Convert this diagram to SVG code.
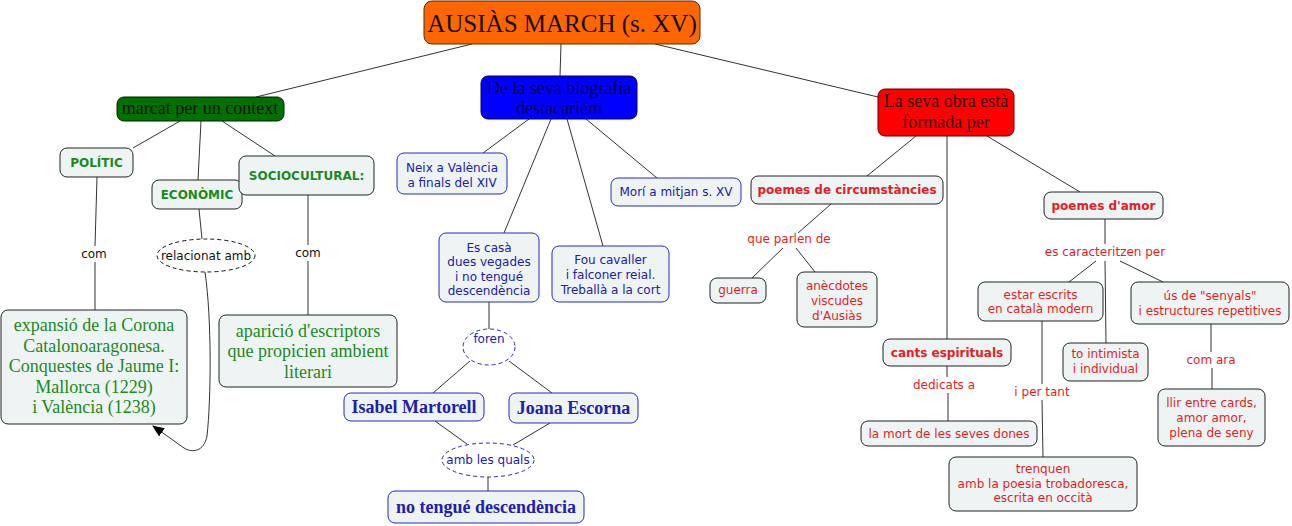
<svg xmlns="http://www.w3.org/2000/svg" width="1292" height="526" viewBox="0 0 1292 526">
<defs>
<marker id="arr" markerWidth="12" markerHeight="10" refX="11" refY="5" orient="auto" markerUnits="userSpaceOnUse">
<path d="M0,0 L12,5 L0,10 Z" fill="#000"/>
</marker>
<style>
.ln{stroke:#333;stroke-width:1;fill:none}
.box{fill:#EEF4F4;stroke:#222;stroke-width:1}
.bbox{fill:#EEF4F4;stroke:#2a2ab8;stroke-width:1}
.serif{font-family:"Liberation Serif","Times New Roman",serif;text-anchor:middle}
.sans{font-family:"DejaVu Sans",Verdana,sans-serif;font-size:12px;text-anchor:middle}
.g{fill:#1B8A1B}
.b{fill:#2020AA}
.r{fill:#E31E24}
.k{fill:#111}
.bold{font-weight:bold}
.lbl{fill:#fff;stroke:none}
</style>
</defs>
<rect width="1292" height="526" fill="#fff"/>
<g id="connectors">
<line class="ln" x1="472" y1="44" x2="256" y2="97"/>
<line class="ln" x1="561" y1="44" x2="560" y2="76"/>
<line class="ln" x1="655" y1="44" x2="878" y2="97"/>
<line class="ln" x1="180" y1="121" x2="133" y2="148"/>
<line class="ln" x1="201" y1="121" x2="198" y2="180"/>
<line class="ln" x1="222" y1="121" x2="275" y2="156"/>
<line class="ln" x1="97" y1="177" x2="95" y2="246"/>
<line class="ln" x1="95" y1="262" x2="95" y2="310"/>
<line class="ln" x1="199" y1="209" x2="202" y2="239"/>
<line class="ln" x1="308" y1="195" x2="308" y2="245"/>
<line class="ln" x1="308" y1="261" x2="308" y2="315"/>
<path class="ln" stroke="#111" d="M205,272 C212,320 211,400 207,436 C204,452 192,453 184,448 L153,426" marker-end="url(#arr)"/>
<line class="ln" x1="529" y1="119" x2="483" y2="153"/>
<line class="ln" x1="551" y1="119" x2="504" y2="233"/>
<line class="ln" x1="567" y1="119" x2="603" y2="246"/>
<line class="ln" x1="586" y1="119" x2="657" y2="178"/>
<line class="ln" x1="489" y1="302" x2="489" y2="329"/>
<line class="ln" x1="470" y1="361" x2="433" y2="393"/>
<line class="ln" x1="509" y1="361" x2="552" y2="393"/>
<line class="ln" x1="435" y1="421" x2="467" y2="444"/>
<line class="ln" x1="550" y1="423" x2="513" y2="445"/>
<line class="ln" x1="488" y1="477" x2="488" y2="491"/>
<line class="ln" x1="916" y1="136" x2="867" y2="176"/>
<line class="ln" x1="831" y1="204" x2="798" y2="233"/>
<line class="ln" x1="783" y1="248" x2="752" y2="278"/>
<line class="ln" x1="796" y1="248" x2="815" y2="272"/>
<line class="ln" x1="947" y1="136" x2="947" y2="339"/>
<line class="ln" x1="947" y1="366" x2="947" y2="377"/>
<line class="ln" x1="948" y1="393" x2="948" y2="421"/>
<line class="ln" x1="987" y1="136" x2="1080" y2="192"/>
<line class="ln" x1="1105" y1="219" x2="1105" y2="244"/>
<line class="ln" x1="1096" y1="261" x2="1069" y2="282"/>
<line class="ln" x1="1105" y1="261" x2="1106" y2="343"/>
<line class="ln" x1="1120" y1="261" x2="1163" y2="282"/>
<line class="ln" x1="1211" y1="324" x2="1211" y2="352"/>
<line class="ln" x1="1212" y1="368" x2="1212" y2="389"/>
<line class="ln" x1="1042" y1="321" x2="1042" y2="384"/>
<line class="ln" x1="1042" y1="400" x2="1043" y2="457"/>
</g>
<g id="link-labels">
<text class="sans k" x="94" y="258">com</text>
<text class="sans k" x="308" y="257">com</text>
<text class="sans r" x="789" y="243">que parlen de</text>
<text class="sans r" x="944" y="389">dedicats a</text>
<text class="sans r" x="1105" y="256">es caracteritzen per</text>
<text class="sans r" x="1211" y="364">com ara</text>
<text class="sans r" x="1042" y="396">i per tant</text>
</g>
<g id="root">
<rect x="424" y="1" width="276" height="43" rx="8" fill="#FF6600" stroke="#5a2a00"/>
<text class="serif k" x="562" y="32" font-size="25">AUSIÀS MARCH (s. XV)</text>
</g>
<g id="context">
<rect x="117" y="97" width="167" height="24" rx="7" fill="#007000" stroke="#002200"/>
<text class="serif k" x="200" y="114" font-size="18">marcat per un context</text>
</g>
<g id="biografia">
<rect x="481" y="76" width="156" height="43" rx="7" fill="#0000FF" stroke="#000060"/>
<text class="serif" fill="#000050" x="559" y="94" font-size="18">De la seva biografia</text>
<text class="serif" fill="#000050" x="559" y="114" font-size="18">destacariem</text>
</g>
<g id="obra">
<rect x="878" y="89" width="136" height="47" rx="7" fill="#FF0000" stroke="#600000"/>
<text class="serif" fill="#300000" x="946" y="107" font-size="18">La seva obra està</text>
<text class="serif" fill="#300000" x="946" y="128" font-size="18">formada per</text>
</g>
<g id="politic">
<rect class="box" x="60" y="148" width="73" height="29" rx="7"/>
<text class="sans g bold" x="96.5" y="167">POLÍTIC</text>
</g>
<g id="economic">
<rect class="box" x="152" y="180" width="90" height="29" rx="7"/>
<text class="sans g bold" x="197" y="199">ECONÒMIC</text>
</g>
<g id="sociocultural">
<rect class="box" x="239" y="156" width="135" height="39" rx="7"/>
<text class="sans g bold" x="306.5" y="180">SOCIOCULTURAL:</text>
</g>
<g id="relacionat">
<ellipse cx="206" cy="255.5" rx="49" ry="16.5" fill="#fff" stroke="#111" stroke-dasharray="4,3"/>
<text class="sans k" x="206" y="260">relacionat amb</text>
</g>
<g id="expansio">
<rect class="box" x="1" y="310" width="186" height="114" rx="7"/>
<text class="serif g" font-size="18" x="94" y="331">expansió de la Corona</text>
<text class="serif g" font-size="18" x="94" y="352">Catalonoaragonesa.</text>
<text class="serif g" font-size="18" x="94" y="372">Conquestes de Jaume I:</text>
<text class="serif g" font-size="18" x="94" y="393">Mallorca (1229)</text>
<text class="serif g" font-size="18" x="94" y="413">i València (1238)</text>
</g>
<g id="aparicio">
<rect class="box" x="219" y="315" width="178" height="72" rx="7"/>
<text class="serif g" font-size="18" x="308" y="337">aparició d'escriptors</text>
<text class="serif g" font-size="18" x="308" y="357">que propicien ambient</text>
<text class="serif g" font-size="18" x="308" y="378">literari</text>
</g>
<g id="neix">
<rect class="bbox" x="397" y="153" width="110" height="41" rx="7"/>
<text class="sans b" x="452" y="172">Neix a València</text>
<text class="sans b" x="452" y="187">a finals del XIV</text>
</g>
<g id="escasa">
<rect class="bbox" x="439" y="233" width="100" height="69" rx="7"/>
<text class="sans b" x="489" y="252">Es casà</text>
<text class="sans b" x="489" y="266">dues vegades</text>
<text class="sans b" x="489" y="281">i no tengué</text>
<text class="sans b" x="489" y="295">descendència</text>
</g>
<g id="fou">
<rect class="bbox" x="552" y="246" width="117" height="56" rx="7"/>
<text class="sans b" x="610.5" y="264">Fou cavaller</text>
<text class="sans b" x="610.5" y="279">i falconer reial.</text>
<text class="sans b" x="610.5" y="294">Treballà a la cort</text>
</g>
<g id="mori">
<rect class="bbox" x="611" y="178" width="130" height="28" rx="7"/>
<text class="sans b" x="676" y="196">Morí a mitjan s. XV</text>
</g>
<g id="foren">
<ellipse cx="489" cy="347" rx="26" ry="18" fill="#fff" stroke="#2a2ab8" stroke-dasharray="4,3"/>
<text class="sans b" x="489" y="343">foren</text>
</g>
<g id="isabel">
<rect class="bbox" x="344" y="393" width="140" height="28" rx="7"/>
<text class="serif b bold" font-size="18" x="414" y="413">Isabel Martorell</text>
</g>
<g id="joana">
<rect class="bbox" x="509" y="393" width="129" height="30" rx="7"/>
<text class="serif b bold" font-size="18" x="573.5" y="414">Joana Escorna</text>
</g>
<g id="amblesquals">
<ellipse cx="488" cy="460" rx="46" ry="17" fill="#fff" stroke="#2a2ab8" stroke-dasharray="4,3"/>
<text class="sans b" x="488" y="464">amb les quals</text>
</g>
<g id="notengue">
<rect class="bbox" x="388" y="491" width="196" height="32" rx="7"/>
<text class="serif b bold" font-size="18" x="486" y="513">no tengué descendència</text>
</g>
<g id="circumstancies">
<rect class="box" x="751" y="176" width="192" height="28" rx="7"/>
<text class="sans r bold" x="847" y="194">poemes de circumstàncies</text>
</g>
<g id="guerra">
<rect class="box" x="710" y="278" width="56" height="25" rx="7"/>
<text class="sans r" x="738" y="294">guerra</text>
</g>
<g id="anecdotes">
<rect class="box" x="797" y="272" width="80" height="55" rx="7"/>
<text class="sans r" x="837" y="290">anècdotes</text>
<text class="sans r" x="837" y="305">viscudes</text>
<text class="sans r" x="837" y="320">d'Ausiàs</text>
</g>
<g id="cants">
<rect class="box" x="883" y="339" width="128" height="27" rx="7"/>
<text class="sans r bold" x="947" y="357">cants espirituals</text>
</g>
<g id="lamort">
<rect class="box" x="861" y="421" width="176" height="25" rx="7"/>
<text class="sans r" x="949" y="438">la mort de les seves dones</text>
</g>
<g id="amor">
<rect class="box" x="1044" y="192" width="119" height="27" rx="7"/>
<text class="sans r bold" x="1103.5" y="210">poemes d'amor</text>
</g>
<g id="estar">
<rect class="box" x="978" y="282" width="125" height="39" rx="7"/>
<text class="sans r" x="1040.5" y="299">estar escrits</text>
<text class="sans r" x="1040.5" y="313">en català modern</text>
</g>
<g id="intimista">
<rect class="box" x="1063" y="343" width="85" height="38" rx="7"/>
<text class="sans r" x="1105.5" y="358">to intimista</text>
<text class="sans r" x="1105.5" y="373">i individual</text>
</g>
<g id="senyals">
<rect class="box" x="1131" y="282" width="158" height="42" rx="7"/>
<text class="sans r" x="1210" y="300">ús de "senyals"</text>
<text class="sans r" x="1210" y="315">i estructures repetitives</text>
</g>
<g id="llir">
<rect class="box" x="1158" y="389" width="107" height="57" rx="7"/>
<text class="sans r" x="1211.5" y="407">llir entre cards,</text>
<text class="sans r" x="1211.5" y="422">amor amor,</text>
<text class="sans r" x="1211.5" y="437">plena de seny</text>
</g>
<g id="trenquen">
<rect class="box" x="949" y="457" width="188" height="54" rx="7"/>
<text class="sans r" x="1043" y="473">trenquen</text>
<text class="sans r" x="1043" y="488">amb la poesia trobadoresca,</text>
<text class="sans r" x="1043" y="502">escrita en occità</text>
</g>
</svg>
